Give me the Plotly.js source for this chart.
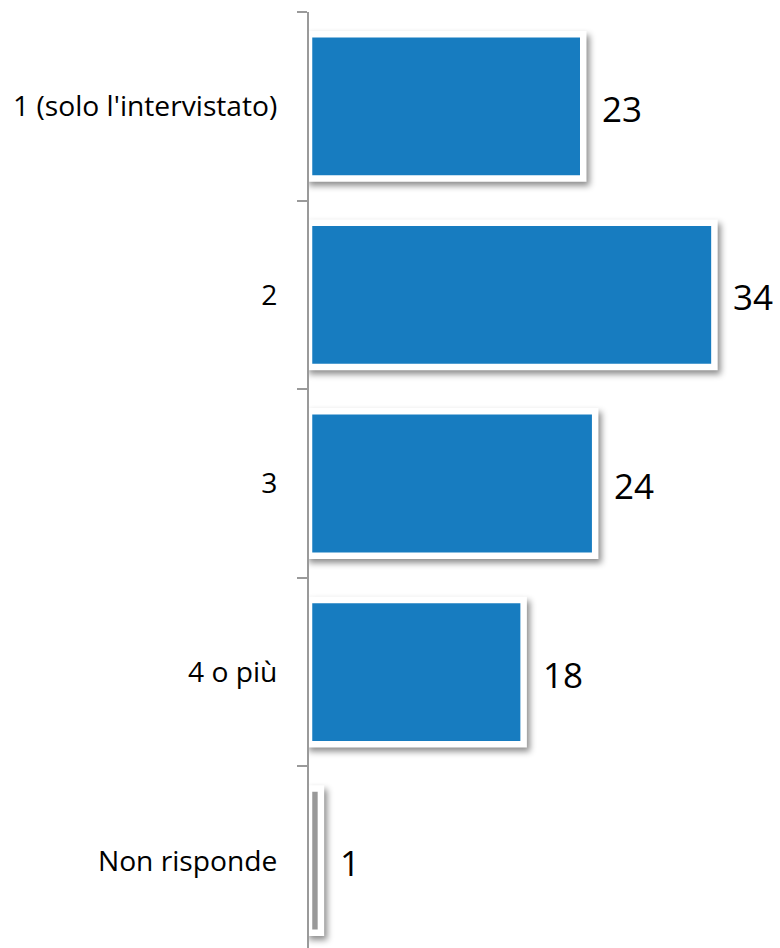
<!DOCTYPE html>
<html>
<head>
<meta charset="utf-8">
<script src="https://cdn.plot.ly/plotly-3.0.1.min.js"></script>
<style>
html, body { margin: 0; padding: 0; background: #fff; }
#chart { width: 780px; height: 948px; }
.js-plotly-plot .plotly .bars .point path { filter: drop-shadow(3px 4px 3px rgba(0,0,0,0.45)); }
</style>
</head>
<body>
<div id="chart"></div>
<script>
const categories = ["1 (solo l'intervistato)", "2", "3", "4 o più", "Non risponde"];
const values = [23, 34, 24, 18, 1];
const barColors = ["#177cc0", "#177cc0", "#177cc0", "#177cc0", "#999999"];

const trace = {
  type: 'bar',
  orientation: 'h',
  y: categories,
  x: values,
  width: 0.765,
  marker: { color: barColors, line: { color: '#ffffff', width: 6.5 } },
  hoverinfo: 'none'
};

// category axis: annotation y given as the category index
const annotations = values.map((v, i) => ({
  x: v, y: i, xref: 'x', yref: 'y',
  text: String(v), showarrow: false,
  xanchor: 'left', yanchor: 'middle', xshift: 17, yshift: -2,
  font: { family: 'Open Sans, sans-serif', size: 35, color: '#000' }
}));

const layout = {
  width: 780, height: 948,
  margin: { l: 309, r: 0, t: 12, b: 0 },
  paper_bgcolor: '#fff', plot_bgcolor: '#fff',
  showlegend: false,
  xaxis: { range: [0, 39.5], visible: false, fixedrange: true },
  yaxis: {
    type: 'category',
    range: [4.463, -0.5],
    showline: true, linecolor: '#9a9a9a', linewidth: 2,
    ticks: 'outside', ticklen: 10, tickwidth: 2, tickcolor: '#9a9a9a',
    tickson: 'boundaries',
    ticklabelstandoff: 24,
    showgrid: false, zeroline: false,
    tickfont: { family: 'Open Sans, sans-serif', size: 28.2, color: '#000' }
  },
  annotations: annotations
};

Plotly.newPlot('chart', [trace], layout, { displayModeBar: false, staticPlot: true });
</script>
</body>
</html>
